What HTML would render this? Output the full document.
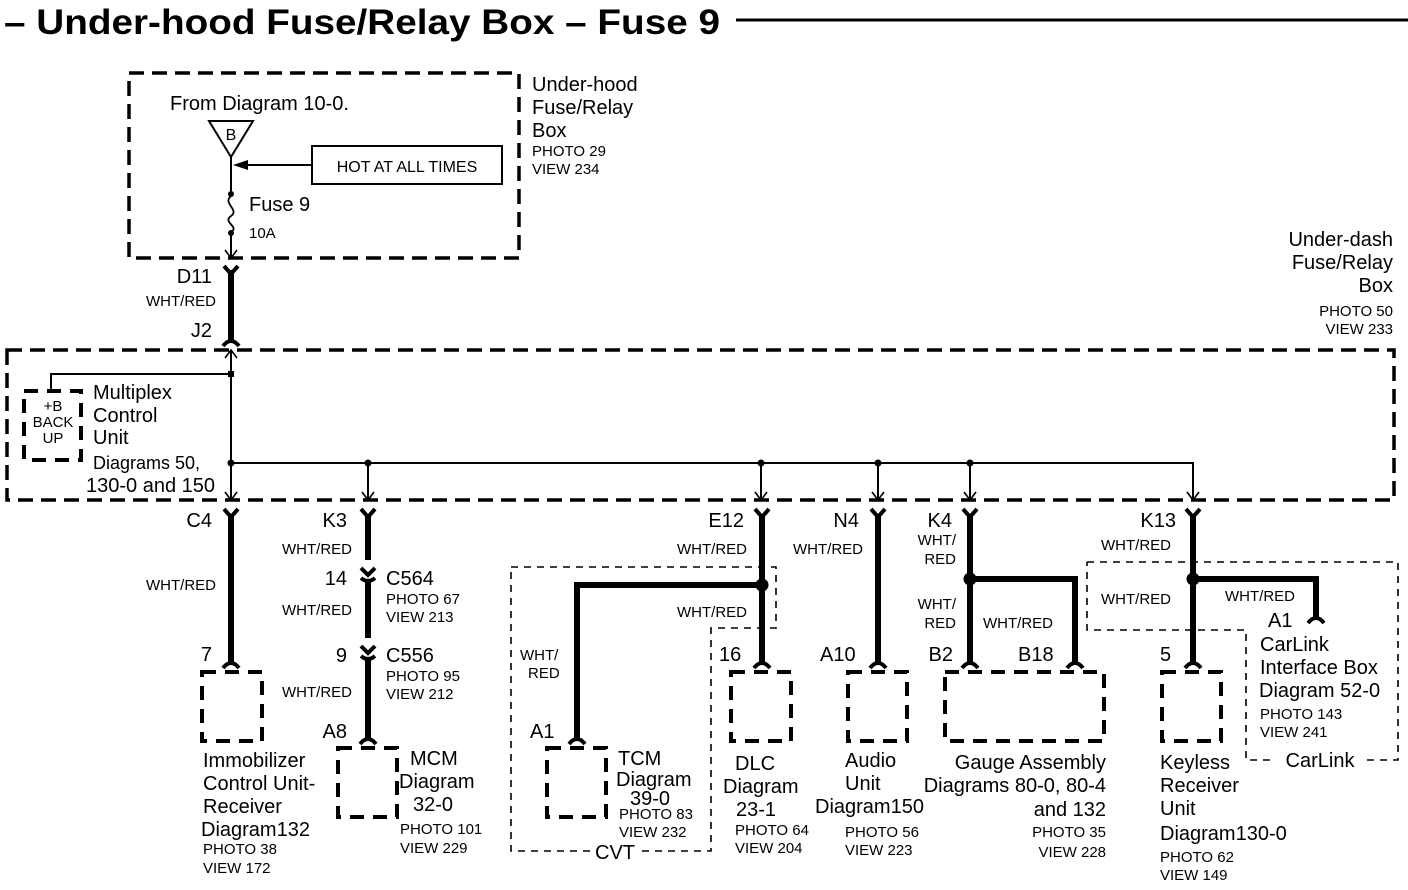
<!DOCTYPE html>
<html><head><meta charset="utf-8"><style>
html,body{margin:0;padding:0;background:#fff;}
svg{display:block;}
text{font-family:"Liberation Sans",Arial,sans-serif;fill:#000;}
.l{font-size:20px;}
.s{font-size:15px;}
.m{font-size:16px;}
</style></head><body>
<svg width="1408" height="890" viewBox="0 0 1408 890" xmlns="http://www.w3.org/2000/svg">
<defs>
<g id="fem"><path d="M-7,-6 L0,2 L7,-6" fill="none" stroke="#000" stroke-width="4"/></g>
<g id="male"><path d="M-8,6 Q0,-4 8,6" fill="none" stroke="#000" stroke-width="4"/></g>
<g id="inl"><path d="M-7,-8 L0,-1 L7,-8" fill="none" stroke="#000" stroke-width="4"/><path d="M-7,2 Q0,8 7,2" fill="none" stroke="#000" stroke-width="4"/></g>
<g id="darr"><path d="M-6,-8 L0,0 L6,-8" fill="none" stroke="#000" stroke-width="1.6"/></g>
</defs>

<!-- Title -->
<text x="4" y="34" font-size="35" font-weight="bold" textLength="716" lengthAdjust="spacingAndGlyphs">– Under-hood Fuse/Relay Box – Fuse 9</text>
<line x1="736" y1="20" x2="1408" y2="20" stroke="#000" stroke-width="3"/>

<!-- Under-hood box -->
<rect x="129" y="73" width="390" height="185" fill="none" stroke="#000" stroke-width="3.5" stroke-dasharray="15 8"/>
<text class="l" x="532" y="91">Under-hood</text>
<text class="l" x="532" y="114">Fuse/Relay</text>
<text class="l" x="532" y="137">Box</text>
<text class="s" x="532" y="156">PHOTO 29</text>
<text class="s" x="532" y="174">VIEW 234</text>
<text class="l" x="170" y="110">From Diagram 10-0.</text>
<path d="M209,121 L253,121 L231,157 Z" fill="none" stroke="#000" stroke-width="2"/>
<text class="m" x="231" y="140" text-anchor="middle">B</text>
<line x1="231" y1="157" x2="231" y2="196" stroke="#000" stroke-width="2"/>
<path d="M231,196 C222,203 240,210 231,216 C222,222 240,227 231,232" fill="none" stroke="#000" stroke-width="1.8"/>
<line x1="231" y1="232" x2="231" y2="258" stroke="#000" stroke-width="2"/>
<circle cx="231" cy="194" r="3" fill="#000"/>
<circle cx="231" cy="233" r="3" fill="#000"/>
<use href="#darr" x="231" y="258"/>
<line x1="244" y1="165" x2="312" y2="165" stroke="#000" stroke-width="2"/>
<path d="M233,165 L248,160 L248,170 Z" fill="#000"/>
<rect x="312" y="146" width="190" height="38" fill="none" stroke="#000" stroke-width="2"/>
<text class="m" x="407" y="172" text-anchor="middle">HOT AT ALL TIMES</text>
<text class="l" x="249" y="211">Fuse 9</text>
<text class="s" x="249" y="238">10A</text>

<!-- D11 -> J2 -->
<line x1="231" y1="270" x2="231" y2="340" stroke="#000" stroke-width="6"/>
<use href="#fem" x="231" y="272"/>
<use href="#male" x="231" y="340"/>
<text class="l" x="212" y="283" text-anchor="end">D11</text>
<text class="s" x="216" y="306" text-anchor="end">WHT/RED</text>
<text class="l" x="212" y="337" text-anchor="end">J2</text>

<!-- Under-dash box -->
<text class="l" x="1393" y="246" text-anchor="end">Under-dash</text>
<text class="l" x="1393" y="269" text-anchor="end">Fuse/Relay</text>
<text class="l" x="1393" y="292" text-anchor="end">Box</text>
<text class="s" x="1393" y="316" text-anchor="end">PHOTO 50</text>
<text class="s" x="1393" y="334" text-anchor="end">VIEW 233</text>
<rect x="7" y="350" width="1387" height="150" fill="none" stroke="#000" stroke-width="3.5" stroke-dasharray="15 8"/>
<path d="M225,358 L231,350 L237,358" fill="none" stroke="#000" stroke-width="1.6"/>
<line x1="231" y1="350" x2="231" y2="500" stroke="#000" stroke-width="2"/>
<rect x="228" y="371" width="6" height="6" fill="#000"/>
<polyline points="231,374 51,374 51,390" fill="none" stroke="#000" stroke-width="2"/>
<rect x="24" y="391" width="57" height="69" fill="none" stroke="#000" stroke-width="4" stroke-dasharray="14 9"/>
<text class="s" x="53" y="411" text-anchor="middle">+B</text>
<text class="s" x="53" y="427" text-anchor="middle">BACK</text>
<text class="s" x="53" y="443" text-anchor="middle">UP</text>
<text class="l" x="93" y="399">Multiplex</text>
<text class="l" x="93" y="422">Control</text>
<text class="l" x="93" y="444">Unit</text>
<text x="93" y="469" font-size="18">Diagrams 50,</text>
<text class="l" x="215" y="492" text-anchor="end">130-0 and 150</text>
<polyline points="231,463 1193,463 1193,500" fill="none" stroke="#000" stroke-width="2"/>
<g fill="#000"><circle cx="231" cy="463" r="3.5"/><circle cx="368" cy="463" r="3.5"/><circle cx="761" cy="463" r="3.5"/><circle cx="878" cy="463" r="3.5"/><circle cx="970" cy="463" r="3.5"/></g>
<g stroke="#000" stroke-width="2"><line x1="368" y1="463" x2="368" y2="500"/><line x1="761" y1="463" x2="761" y2="500"/><line x1="878" y1="463" x2="878" y2="500"/><line x1="970" y1="463" x2="970" y2="500"/></g>
<use href="#darr" x="231" y="500"/><use href="#darr" x="368" y="500"/><use href="#darr" x="761" y="500"/><use href="#darr" x="878" y="500"/><use href="#darr" x="970" y="500"/><use href="#darr" x="1193" y="500"/>

<!-- thick wires -->
<g stroke="#000" stroke-width="6" fill="none">
<line x1="231" y1="515" x2="231" y2="662"/>
<line x1="368" y1="515" x2="368" y2="738"/>
<line x1="762" y1="515" x2="762" y2="662"/>
<polyline points="762,585 577,585 577,738"/>
<line x1="878" y1="515" x2="878" y2="662"/>
<line x1="970" y1="515" x2="970" y2="662"/>
<polyline points="970,579 1075,579 1075,662"/>
<line x1="1193" y1="515" x2="1193" y2="662"/>
<polyline points="1193,579 1316,579 1316,617"/>
</g>
<rect x="350" y="560" width="36" height="24" fill="#fff"/>
<line x1="368" y1="582" x2="368" y2="646" stroke="#000" stroke-width="6"/>
<rect x="350" y="638" width="36" height="24" fill="#fff"/>
<line x1="368" y1="660" x2="368" y2="738" stroke="#000" stroke-width="6"/>
<use href="#inl" x="368" y="576"/>
<use href="#inl" x="368" y="654"/>
<g fill="#000"><circle cx="762" cy="585" r="6.5"/><circle cx="970" cy="579" r="6.5"/><circle cx="1193" cy="579" r="6.5"/></g>
<g><use href="#fem" x="231" y="515"/><use href="#fem" x="368" y="515"/><use href="#fem" x="762" y="515"/><use href="#fem" x="878" y="515"/><use href="#fem" x="970" y="515"/><use href="#fem" x="1193" y="515"/></g>
<g><use href="#male" x="231" y="662"/><use href="#male" x="368" y="738"/><use href="#male" x="577" y="738"/><use href="#male" x="762" y="662"/><use href="#male" x="878" y="662"/><use href="#male" x="970" y="662"/><use href="#male" x="1075" y="662"/><use href="#male" x="1193" y="662"/><use href="#male" x="1316" y="617"/></g>

<!-- pin labels -->
<text class="l" x="212" y="527" text-anchor="end">C4</text>
<text class="l" x="347" y="527" text-anchor="end">K3</text>
<text class="l" x="744" y="527" text-anchor="end">E12</text>
<text class="l" x="859" y="527" text-anchor="end">N4</text>
<text class="l" x="952" y="527" text-anchor="end">K4</text>
<text class="l" x="1176" y="527" text-anchor="end">K13</text>
<text class="l" x="212" y="661" text-anchor="end">7</text>
<text class="l" x="347" y="585" text-anchor="end">14</text>
<text class="l" x="347" y="662" text-anchor="end">9</text>
<text class="l" x="347" y="738" text-anchor="end">A8</text>
<text class="l" x="530" y="738">A1</text>
<text class="l" x="719" y="661">16</text>
<text class="l" x="820" y="661">A10</text>
<text class="l" x="953" y="661" text-anchor="end">B2</text>
<text class="l" x="1018" y="661">B18</text>
<text class="l" x="1160" y="661">5</text>
<text class="l" x="1268" y="627">A1</text>

<!-- wire color labels -->
<text class="s" x="216" y="590" text-anchor="end">WHT/RED</text>
<text class="s" x="352" y="554" text-anchor="end">WHT/RED</text>
<text class="s" x="352" y="615" text-anchor="end">WHT/RED</text>
<text class="s" x="352" y="697" text-anchor="end">WHT/RED</text>
<text class="s" x="747" y="554" text-anchor="end">WHT/RED</text>
<text class="s" x="747" y="617" text-anchor="end">WHT/RED</text>
<text class="s" x="520" y="660">WHT/</text>
<text class="s" x="528" y="678">RED</text>
<text class="s" x="863" y="554" text-anchor="end">WHT/RED</text>
<text class="s" x="956" y="545" text-anchor="end">WHT/</text>
<text class="s" x="956" y="564" text-anchor="end">RED</text>
<text class="s" x="956" y="609" text-anchor="end">WHT/</text>
<text class="s" x="956" y="628" text-anchor="end">RED</text>
<text class="s" x="983" y="628">WHT/RED</text>
<text class="s" x="1101" y="550">WHT/RED</text>
<text class="s" x="1101" y="604">WHT/RED</text>
<text class="s" x="1225" y="601">WHT/RED</text>

<!-- inline connector labels -->
<text class="l" x="386" y="585">C564</text>
<text class="s" x="386" y="604">PHOTO 67</text>
<text class="s" x="386" y="622">VIEW 213</text>
<text class="l" x="386" y="662">C556</text>
<text class="s" x="386" y="681">PHOTO 95</text>
<text class="s" x="386" y="699">VIEW 212</text>

<!-- component boxes -->
<g fill="none" stroke="#000" stroke-width="4" stroke-dasharray="14 9">
<rect x="202" y="672" width="60" height="69"/>
<rect x="338" y="748" width="59" height="69"/>
<rect x="547" y="748" width="59" height="69"/>
<rect x="731" y="672" width="60" height="69"/>
<rect x="848" y="672" width="59" height="69"/>
<rect x="945" y="672" width="159" height="69"/>
<rect x="1162" y="672" width="59" height="69"/>
</g>

<!-- thin dashed enclosures -->
<path d="M511,567 L776,567 L776,628 L711,628 L711,851 L640,851 M590,851 L511,851 L511,567" fill="none" stroke="#000" stroke-width="1.6" stroke-dasharray="7 6"/>
<text class="l" x="615" y="859" text-anchor="middle">CVT</text>
<path d="M1087,562 L1398,562 L1398,760 L1362,760 M1270,760 L1246,760 L1246,630 L1087,630 L1087,562" fill="none" stroke="#000" stroke-width="1.6" stroke-dasharray="7 6"/>
<text class="l" x="1320" y="767" text-anchor="middle">CarLink</text>

<!-- component labels -->
<text class="l" x="203" y="767">Immobilizer</text>
<text class="l" x="203" y="790">Control Unit-</text>
<text class="l" x="203" y="813">Receiver</text>
<text class="l" x="201" y="836">Diagram132</text>
<text class="s" x="203" y="854">PHOTO 38</text>
<text class="s" x="203" y="873">VIEW 172</text>

<text class="l" x="410" y="765">MCM</text>
<text class="l" x="399" y="788">Diagram</text>
<text class="l" x="413" y="811">32-0</text>
<text class="s" x="400" y="834">PHOTO 101</text>
<text class="s" x="400" y="853">VIEW 229</text>

<text class="l" x="618" y="765">TCM</text>
<text class="l" x="616" y="786">Diagram</text>
<text class="l" x="630" y="805">39-0</text>
<text class="s" x="619" y="819">PHOTO 83</text>
<text class="s" x="619" y="837">VIEW 232</text>

<text class="l" x="735" y="770">DLC</text>
<text class="l" x="723" y="793">Diagram</text>
<text class="l" x="736" y="816">23-1</text>
<text class="s" x="735" y="835">PHOTO 64</text>
<text class="s" x="735" y="853">VIEW 204</text>

<text class="l" x="845" y="767">Audio</text>
<text class="l" x="845" y="790">Unit</text>
<text class="l" x="815" y="813">Diagram150</text>
<text class="s" x="845" y="837">PHOTO 56</text>
<text class="s" x="845" y="855">VIEW 223</text>

<text class="l" x="1106" y="769" text-anchor="end">Gauge Assembly</text>
<text class="l" x="1106" y="792" text-anchor="end">Diagrams 80-0, 80-4</text>
<text class="l" x="1106" y="816" text-anchor="end">and 132</text>
<text class="s" x="1106" y="837" text-anchor="end">PHOTO 35</text>
<text class="s" x="1106" y="857" text-anchor="end">VIEW 228</text>

<text class="l" x="1160" y="769">Keyless</text>
<text class="l" x="1160" y="792">Receiver</text>
<text class="l" x="1160" y="815">Unit</text>
<text class="l" x="1160" y="840">Diagram130-0</text>
<text class="s" x="1160" y="862">PHOTO 62</text>
<text class="s" x="1160" y="880">VIEW 149</text>

<text class="l" x="1260" y="651">CarLink</text>
<text class="l" x="1260" y="674">Interface Box</text>
<text class="l" x="1259" y="697">Diagram 52-0</text>
<text class="s" x="1260" y="719">PHOTO 143</text>
<text class="s" x="1260" y="737">VIEW 241</text>
</svg>
</body></html>
